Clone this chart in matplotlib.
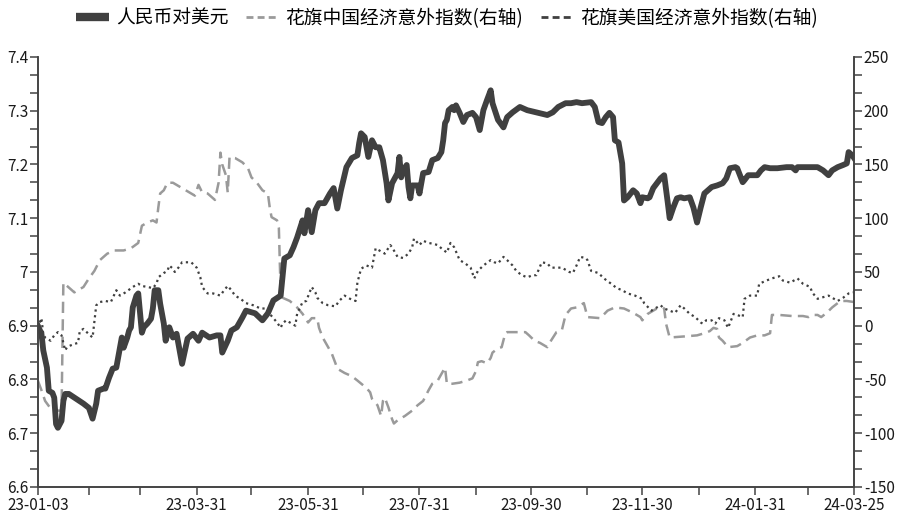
import matplotlib
matplotlib.use('Agg')
import matplotlib.pyplot as plt
from matplotlib.lines import Line2D
from matplotlib.ticker import AutoMinorLocator, FormatStrFormatter, FixedLocator
import pandas as pd

plt.rcParams['font.family'] = ['Noto Sans CJK SC', 'DejaVu Sans']
plt.rcParams['axes.unicode_minus'] = False

START = pd.Timestamp('2023-01-03')
END = pd.Timestamp('2024-03-25')

# 人民币对美元 (days since 2023-01-03, value)
cny_days = [0, 2, 3, 5, 6, 8, 9, 10, 11, 13, 14, 15, 17, 21, 25, 28, 30, 32, 33, 36,
            37, 39, 41, 43, 44, 45, 46, 47, 49, 50, 51, 52, 54, 55, 57, 58, 60, 62, 63, 64,
            66, 67, 69, 70, 72, 74, 76, 79, 82, 85, 88, 90, 94, 98, 100, 101, 104, 106, 109, 112,
            114, 119, 123, 126, 129, 133, 134, 135, 138, 140, 142, 145, 146, 148, 150, 152, 154, 157, 160, 162,
            164, 166, 169, 172, 175, 176, 177, 179, 181, 183, 185, 187, 189, 191, 192, 194, 197, 198, 199, 200,
            202, 203, 204, 205, 208, 209, 211, 214, 216, 219, 221, 222, 223, 224, 225, 227, 228, 229, 231, 233,
            235, 238, 240, 242, 244, 246, 248, 249, 252, 255, 257, 260, 264, 268, 273, 279, 282, 285, 289, 292,
            295, 298, 303, 305, 307, 309, 311, 313, 315, 316, 318, 320, 321, 323, 326, 328, 330, 331, 334, 335,
            337, 339, 341, 343, 345, 346, 348, 350, 352, 354, 357, 359, 361, 363, 365, 369, 372, 375, 377, 379,
            382, 383, 386, 387, 389, 394, 396, 398, 401, 405, 410, 413, 415, 416, 421, 424, 427, 430, 433, 435,
            438, 441, 443, 444, 446, 447]
cny_vals = [6.900, 6.885, 6.854, 6.822, 6.779, 6.775, 6.766, 6.717, 6.710, 6.723, 6.760, 6.773, 6.773, 6.764, 6.755, 6.747, 6.727, 6.755, 6.779, 6.783,
            6.783, 6.803, 6.820, 6.822, 6.841, 6.859, 6.878, 6.859, 6.878, 6.891, 6.897, 6.934, 6.956, 6.960, 6.887, 6.897, 6.904, 6.913, 6.932, 6.966,
            6.966, 6.941, 6.904, 6.872, 6.897, 6.878, 6.885, 6.829, 6.876, 6.885, 6.872, 6.887, 6.878, 6.882, 6.882, 6.850, 6.872, 6.891, 6.897, 6.915,
            6.928, 6.923, 6.910, 6.923, 6.947, 6.956, 6.990, 7.025, 7.031, 7.046, 7.064, 7.096, 7.072, 7.115, 7.074, 7.115, 7.128, 7.128, 7.146, 7.156,
            7.118, 7.152, 7.195, 7.212, 7.217, 7.240, 7.258, 7.251, 7.214, 7.245, 7.232, 7.232, 7.208, 7.165, 7.133, 7.165, 7.184, 7.214, 7.176, 7.189,
            7.199, 7.158, 7.137, 7.161, 7.161, 7.146, 7.184, 7.186, 7.208, 7.212, 7.223, 7.245, 7.277, 7.283, 7.301, 7.307, 7.301, 7.310, 7.296, 7.279,
            7.292, 7.296, 7.288, 7.264, 7.301, 7.320, 7.338, 7.314, 7.283, 7.269, 7.288, 7.297, 7.307, 7.301, 7.297, 7.292, 7.297, 7.307, 7.314, 7.314,
            7.316, 7.314, 7.316, 7.307, 7.279, 7.277, 7.288, 7.296, 7.288, 7.245, 7.241, 7.202, 7.133, 7.139, 7.152, 7.146, 7.128, 7.139, 7.137, 7.139,
            7.156, 7.165, 7.174, 7.180, 7.128, 7.100, 7.120, 7.137, 7.139, 7.137, 7.139, 7.120, 7.092, 7.120, 7.146, 7.158, 7.161, 7.165, 7.174, 7.193,
            7.195, 7.193, 7.167, 7.171, 7.180, 7.180, 7.189, 7.195, 7.193, 7.193, 7.195, 7.195, 7.189, 7.195, 7.195, 7.195, 7.195, 7.189, 7.180, 7.189,
            7.195, 7.199, 7.202, 7.223, 7.217, 7.212]

# 花旗中国经济意外指数
cn_days = [0, 2, 4, 7, 10, 13, 14, 20, 25, 28, 31, 34, 38, 42, 47, 51, 55, 57, 60, 63,
           65, 66, 67, 69, 71, 74, 78, 83, 86, 88, 90, 93, 97, 99, 100, 101, 103, 104, 105, 108,
           112, 115, 117, 120, 123, 126, 127, 128, 131, 132, 133, 134, 138, 142, 145, 148, 150, 153, 154, 156,
           158, 161, 163, 164, 168, 172, 175, 180, 182, 183, 186, 188, 189, 190, 192, 194, 195, 197, 201, 205,
           208, 211, 214, 216, 219, 221, 223, 224, 227, 231, 235, 238, 240, 241, 243, 246, 248, 249, 252, 254,
           256, 257, 261, 267, 269, 272, 275, 279, 281, 284, 287, 289, 292, 295, 299, 301, 308, 312, 316, 321,
           326, 330, 331, 334, 339, 342, 343, 344, 346, 354, 361, 365, 368, 370, 372, 373, 375, 378, 383, 386,
           390, 394, 398, 401, 402, 406, 413, 419, 422, 424, 427, 429, 432, 435, 438, 440, 443, 447]
cn_vals = [-51, -60, -70, -77, -79, -79, 40, 31, 36, 44, 51, 61, 67, 70, 70, 72, 77, 93, 96, 98,
           96, 110, 123, 126, 133, 133, 129, 124, 121, 131, 124, 123, 117, 133, 161, 150, 140, 124, 157, 156,
           152, 147, 138, 133, 126, 123, 110, 101, 98, 91, 30, 26, 23, 17, 11, 3, 7, 7, -2, -11,
           -17, -26, -35, -40, -44, -47, -51, -58, -62, -68, -74, -84, -70, -67, -76, -87, -91, -88, -84, -79,
           -74, -70, -60, -54, -51, -45, -39, -54, -54, -53, -51, -49, -42, -34, -33, -35, -30, -25, -21, -20,
           -7, -6, -6, -6, -9, -14, -16, -20, -14, -6, -4, 10, 16, 17, 21, 8, 7, 14, 17, 16,
           12, 8, 5, 11, 16, 17, 16, 2, -11, -10, -9, -7, -5, -2, -3, -11, -14, -20, -19, -16,
           -11, -9, -9, -7, 10, 10, 9, 9, 8, 10, 10, 8, 12, 17, 21, 23, 23, 22]

# 花旗美国经济意外指数
us_days = [0, 2, 3, 4, 7, 9, 11, 13, 14, 15, 16, 17, 20, 22, 23, 25, 28, 30, 32, 34,
           37, 40, 43, 44, 45, 48, 52, 55, 57, 60, 63, 65, 66, 69, 71, 72, 74, 75, 77, 79,
           84, 87, 89, 90, 93, 96, 100, 102, 104, 106, 108, 111, 114, 118, 122, 125, 127, 129, 131, 133,
           134, 136, 139, 141, 142, 145, 147, 150, 152, 153, 156, 159, 163, 165, 168, 171, 174, 175, 177, 180,
           183, 185, 187, 190, 193, 194, 197, 200, 203, 205, 206, 208, 209, 211, 214, 217, 219, 221, 224, 226,
           228, 231, 234, 237, 238, 239, 241, 244, 248, 250, 252, 255, 257, 260, 262, 265, 268, 271, 273, 276,
           279, 281, 285, 287, 291, 293, 295, 297, 300, 301, 303, 307, 310, 314, 317, 320, 323, 327, 331, 332,
           336, 339, 341, 343, 346, 349, 352, 354, 357, 360, 363, 364, 366, 369, 371, 373, 376, 378, 381, 383,
           386, 387, 390, 394, 395, 399, 402, 406, 408, 412, 416, 419, 423, 424, 427, 429, 433, 435, 438, 441,
           444, 447]
us_vals = [-2, 7, -8, -11, -14, -9, -6, -9, -16, -23, -20, -19, -17, -16, -5, -3, -8, -11, 19, 22,
           23, 22, 33, 30, 28, 31, 36, 39, 37, 36, 35, 39, 45, 49, 51, 56, 53, 50, 54, 59,
           59, 54, 45, 36, 30, 30, 28, 33, 37, 33, 28, 25, 21, 19, 16, 16, 11, 7, 3, -2,
           2, 5, 2, 0, 11, 22, 23, 36, 31, 26, 21, 19, 18, 23, 28, 25, 23, 40, 53, 56,
           54, 72, 70, 67, 75, 73, 64, 63, 67, 73, 81, 77, 75, 79, 77, 76, 75, 72, 68, 77,
           73, 61, 58, 54, 49, 44, 51, 56, 61, 59, 58, 64, 61, 56, 51, 47, 45, 47, 47, 59,
           58, 54, 54, 54, 50, 49, 56, 64, 63, 61, 51, 49, 44, 39, 35, 33, 30, 28, 25, 21,
           14, 17, 19, 16, 14, 12, 19, 16, 11, 8, 3, 2, 5, 5, 2, 7, 5, -2, 11, 10,
           8, 25, 28, 28, 39, 42, 44, 46, 42, 40, 44, 39, 36, 31, 25, 26, 28, 26, 23, 26,
           30, 31]

tick_dates = ['2023-01-03', '2023-01-31', '2023-02-28', '2023-03-31', '2023-04-30', '2023-05-31',
              '2023-06-30', '2023-07-31', '2023-08-31', '2023-09-30', '2023-10-31', '2023-11-30',
              '2023-12-31', '2024-01-31', '2024-02-29', '2024-03-25']
tick_labels = ['23-01-03', '', '', '23-03-31', '', '23-05-31', '', '23-07-31', '', '23-09-30',
               '', '23-11-30', '', '24-01-31', '', '24-03-25']

legend_labels = ['人民币对美元', '花旗中国经济意外指数(右轴)', '花旗美国经济意外指数(右轴)']

dark = '#404040'
grey = '#9a9a9a'
axis_col = '#444444'

cny_x = START + pd.to_timedelta(cny_days, unit='D')
cn_x = START + pd.to_timedelta(cn_days, unit='D')
us_x = START + pd.to_timedelta(us_days, unit='D')

fig = plt.figure(figsize=(9, 5.18), dpi=100)
ax = fig.add_axes([0.042, 0.060, 0.907, 0.830])
ax2 = ax.twinx()

ax2.plot(cn_x, cn_vals, color=grey, lw=1.8, dashes=(4.5, 2.5))
ax2.plot(us_x, us_vals, color=dark, lw=1.6, dashes=(1, 1.6))
ax.plot(cny_x, cny_vals, color=dark, lw=4.2, solid_joinstyle='round')

ax.set_zorder(ax2.get_zorder() + 1)
ax.patch.set_visible(False)

ax.set_xlim(START, END)
ax.set_ylim(6.6, 7.4)
ax2.set_ylim(-150, 250)

ax.yaxis.set_major_locator(FixedLocator([6.6, 6.7, 6.8, 6.9, 7.0, 7.1, 7.2, 7.3, 7.4]))
ax.yaxis.set_major_formatter(FormatStrFormatter('%g'))
ax.yaxis.set_minor_locator(AutoMinorLocator(3))
ax2.yaxis.set_major_locator(FixedLocator(list(range(-150, 251, 50))))
ax2.yaxis.set_minor_locator(AutoMinorLocator(3))

ax.set_xticks(pd.to_datetime(tick_dates))
ax.set_xticklabels(tick_labels)

for a in (ax, ax2):
    a.spines['top'].set_visible(False)
    for s in ('left', 'right', 'bottom'):
        a.spines[s].set_color(axis_col)
        a.spines[s].set_linewidth(1.2)
    a.tick_params(which='both', direction='out', length=6, width=1.1, color=axis_col,
                  labelsize=11, labelcolor='#1a1a1a', pad=1)

handles = [Line2D([], [], color=dark, lw=6, solid_capstyle='butt'),
           Line2D([], [], color=grey, lw=2, dashes=(2.5, 1.5)),
           Line2D([], [], color=dark, lw=2, dashes=(2.5, 1.5))]
fig.legend(handles, legend_labels, loc='center', bbox_to_anchor=(0.497, 0.965), ncol=3,
           frameon=False, fontsize=13.5, handlelength=1.75, handletextpad=0.35, columnspacing=0.95)

fig.savefig('out.png', dpi=100)
